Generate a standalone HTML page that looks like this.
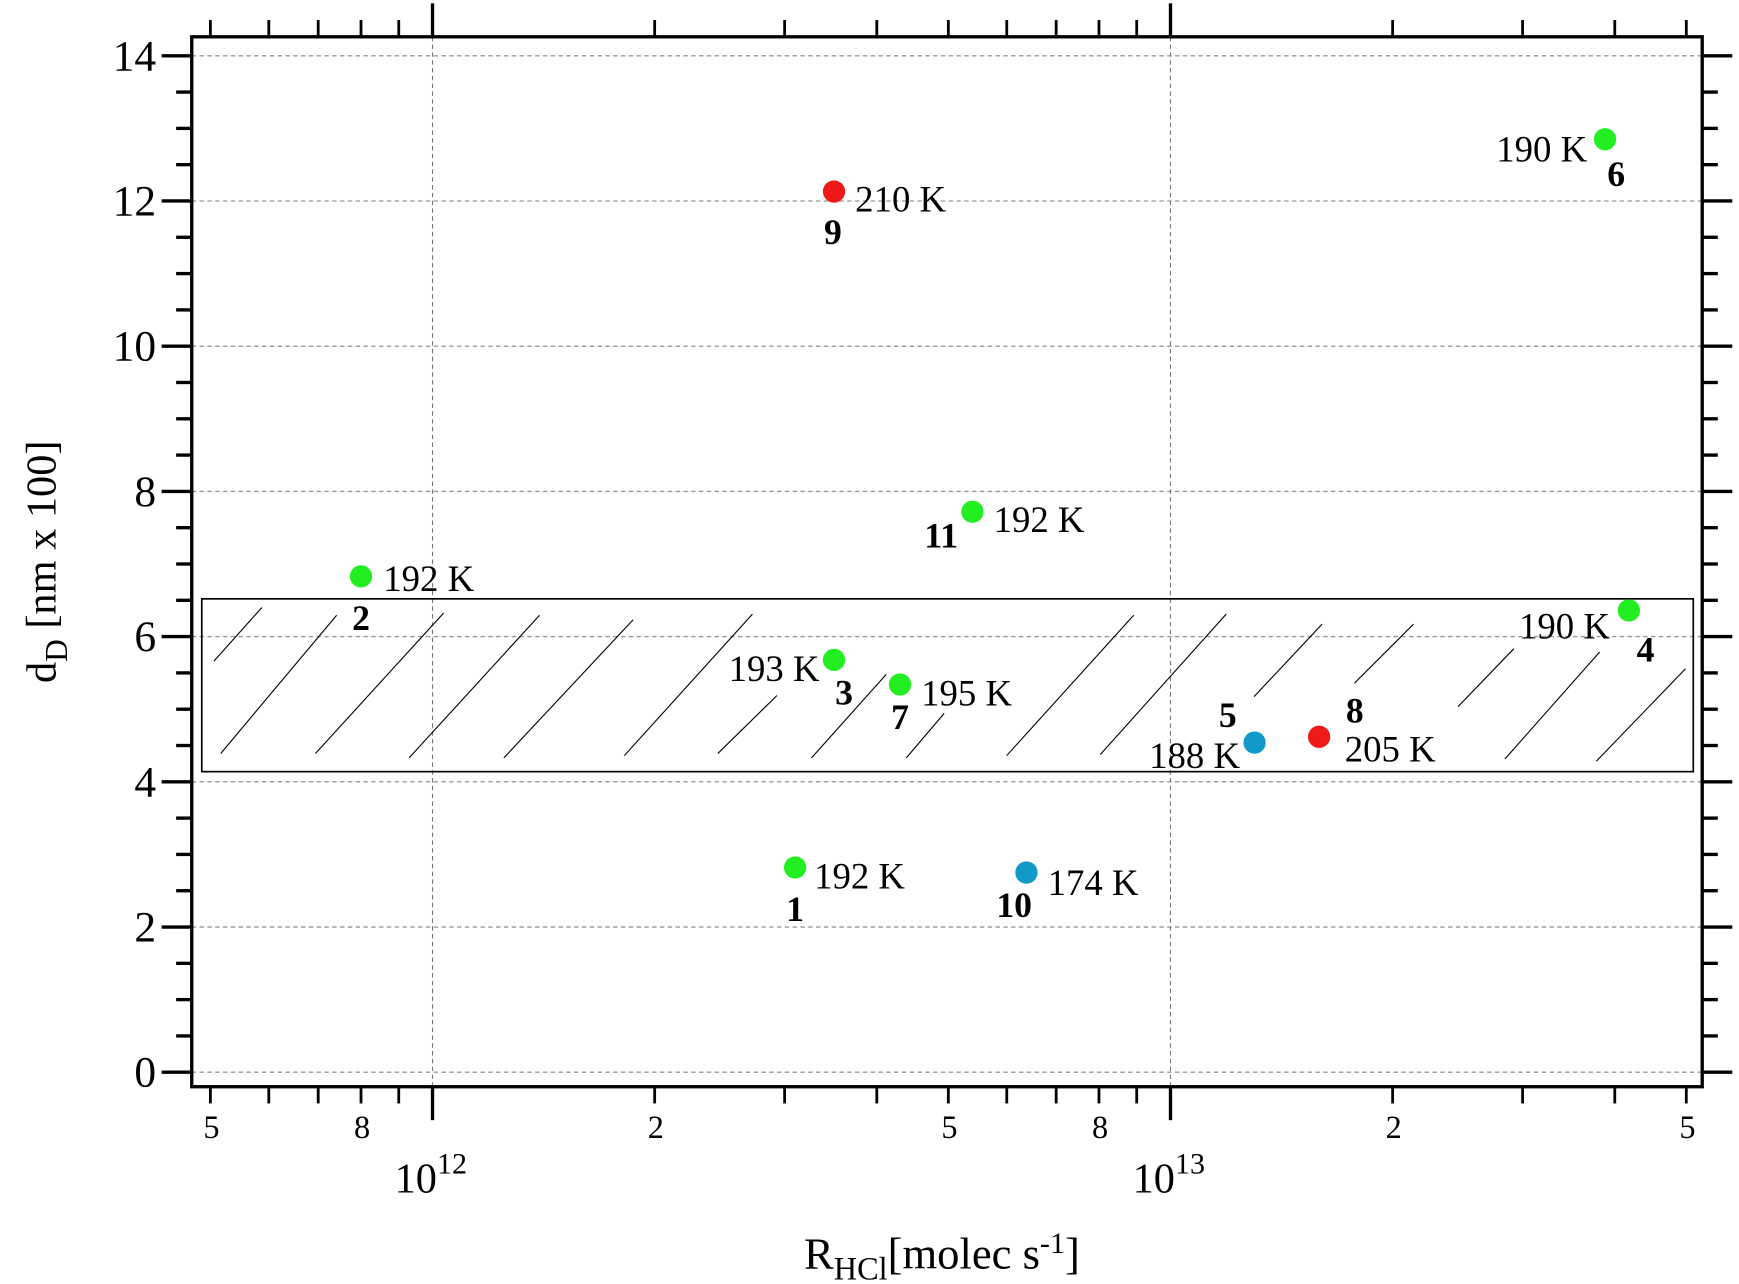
<!DOCTYPE html>
<html><head><meta charset="utf-8"><style>
html,body{margin:0;padding:0;background:#fff}
svg{display:block}
text{font-family:"Liberation Serif",serif;fill:#000}
</style></head><body>
<svg id="chart" width="1739" height="1284" viewBox="0 0 1560 1152" preserveAspectRatio="none" xmlns="http://www.w3.org/2000/svg">
<g id="grid"></g>
<g id="hatch"></g>
<g id="axes"></g>
<g id="points"></g>
<text transform="translate(50,504) rotate(-90)" text-anchor="middle" font-size="38">d<tspan font-size="28" dy="10">D</tspan><tspan dy="-10"> [nm x 100]</tspan></text>
<text x="845" y="1138" text-anchor="middle" font-size="40">R<tspan font-size="29" dy="10">HCl</tspan><tspan dy="-10">[molec s</tspan><tspan font-size="27" dy="-14">-1</tspan><tspan dy="14">]</tspan></text>
</svg>
<script>
const ids = ['1','2','3','4','5','6','7','8','9','10','11'];
const rates = [3.1e12,0.8e12,3.5e12,41.8e12,13.0e12,38.8e12,4.3e12,15.9e12,3.5e12,6.38e12,5.39e12];
const dD = [2.82,6.83,5.68,6.36,4.54,12.85,5.34,4.62,12.13,2.75,7.72];
const temps = ['192 K','192 K','193 K','190 K','188 K','190 K','195 K','205 K','210 K','174 K','192 K'];
const colors = ['#22ee22','#22ee22','#22ee22','#22ee22','#1199c8','#22ee22','#22ee22','#ee1a1a','#ee1a1a','#1199c8','#22ee22'];
const yTicks = [0,2,4,6,8,10,12,14];
const xMinor = [5e11,6e11,7e11,8e11,9e11,2e12,3e12,4e12,5e12,6e12,7e12,8e12,9e12,2e13,3e13,4e13,5e13];
const xMinorLabels = ['5','','','8','','2','','','5','','','8','','2','','','5'];
const xMajor = [1e12,1e13];
const xMajorExp = ['12','13'];
const bandRange = [4.14,6.52];

const NS='http://www.w3.org/2000/svg';
const L=172,R=1527,T=33,B=975;
function X(v){return 388+662*Math.log10(v/1e12);}
function Y(d){return 962-65.14*d;}
function mk(tag,attrs,parent,txt){const e=document.createElementNS(NS,tag);for(const k in attrs)e.setAttribute(k,attrs[k]);if(txt!==undefined)e.textContent=txt;parent.appendChild(e);return e;}
const grid=document.getElementById('grid'),axes=document.getElementById('axes'),pts=document.getElementById('points'),hatch=document.getElementById('hatch');
yTicks.forEach(t=>{const l=mk('line',{x1:L,x2:R,y1:Y(t),y2:Y(t),stroke:'#999','stroke-width':1.2,'stroke-dasharray':'4,3'},grid);

});
xMajor.forEach(v=>{const l=mk('line',{x1:X(v),x2:X(v),y1:T,y2:B,stroke:'#777','stroke-width':1,'stroke-dasharray':'4,3'},grid);

});
const band=mk('rect',{x:181,y:Y(bandRange[1]),width:1338,height:Y(bandRange[0])-Y(bandRange[1]),fill:'none',stroke:'#000','stroke-width':1.5},hatch);


const segs=[[192,593,235,545],[198,676,302,552],[283,676,398,550],[367,680,484,552],[452,680,568,556],[560,678,675,551],[644,676,697,624],[728,680,795,605],[813,680,847,640],[903,678,1017,552],[987,677,1100,551],[1125,625,1186,560],[1215,613,1268,560],[1308,634,1358,582],[1432,683,1512,600],[1350,681,1435,585]];
segs.forEach(s=>{const l=mk('line',{x1:s[0],y1:s[1],x2:s[2],y2:s[3],stroke:'#000','stroke-width':1},hatch);

});
const fr=mk('rect',{x:L,y:T,width:R-L,height:B-T,fill:'none',stroke:'#000','stroke-width':3},axes);


for(let v=0;v<=14.01;v+=0.5){const maj=Math.abs(v-Math.round(v/2)*2)<0.01;const len=maj?27:14;const y=Y(v);
mk('line',{x1:L-len,x2:L,y1:y,y2:y,stroke:'#000','stroke-width':3},axes);
mk('line',{x1:R,x2:R+len,y1:y,y2:y,stroke:'#000','stroke-width':3},axes);}
yTicks.forEach(t=>{const tx=mk('text',{x:140,y:Y(t)+13,'text-anchor':'end','font-size':39},axes,String(t));

});
xMinor.forEach((v,i)=>{const x=X(v);
mk('line',{x1:x,x2:x,y1:B,y2:B+15,stroke:'#000','stroke-width':2.5},axes);
mk('line',{x1:x,x2:x,y1:T,y2:T-15,stroke:'#000','stroke-width':2.5},axes);
if(xMinorLabels[i]){const tx=mk('text',{x:x+1,y:1021,'text-anchor':'middle','font-size':29},axes,xMinorLabels[i]);

}});
xMajor.forEach((v,i)=>{const x=X(v);
mk('line',{x1:x,x2:x,y1:B,y2:B+30,stroke:'#000','stroke-width':3},axes);
mk('line',{x1:x,x2:x,y1:T,y2:T-30,stroke:'#000','stroke-width':3},axes);
const tx=mk('text',{x:x-34,y:1070,'font-size':38},axes,'10');
mk('tspan',{'font-size':27,dy:-17},tx,xMajorExp[i]);

});
const tOff=[[17,19,'start'],[20,13,'start'],[-13,19,'end'],[-17,25,'end'],[-13,23,'end'],[-16,20,'end'],[19,19,'start'],[23,22,'start'],[19,18,'start'],[19,20,'start'],[19,18,'start']];
const nOff=[[0,48],[0,48],[9,40],[15,46],[-24,-14],[10,42],[0,40],[32,-13],[-1,47],[-11,40],[-28,32]];
ids.forEach((id,i)=>{const cx=X(rates[i]),cy=Y(dD[i]);
const c=mk('circle',{cx:cx,cy:cy,r:10,fill:colors[i]},pts);


const t=mk('text',{x:cx+tOff[i][0],y:cy+tOff[i][1],'text-anchor':tOff[i][2],'font-size':33},pts,temps[i]);


const n=mk('text',{x:cx+nOff[i][0],y:cy+nOff[i][1],'text-anchor':'middle','font-size':32,'font-weight':'bold'},pts,id);

});
</script>
</body></html>
